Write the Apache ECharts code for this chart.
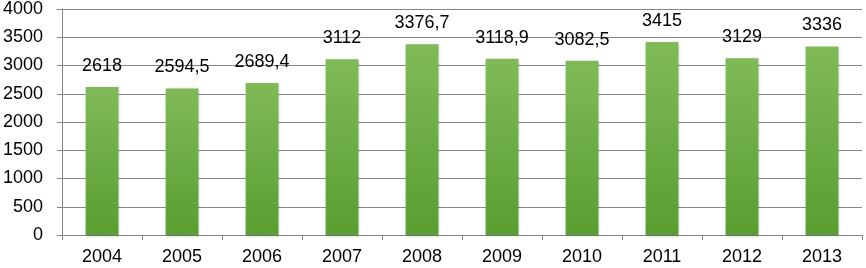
<!DOCTYPE html>
<html><head><meta charset="utf-8">
<script src="https://cdn.jsdelivr.net/npm/echarts@6/dist/echarts.min.js"></script>
<style>html,body{margin:0;padding:0;background:#fff}#c{width:866px;height:268px}</style>
</head><body><div id="c"></div>
<script>
var categories = ['2004','2005','2006','2007','2008','2009','2010','2011','2012','2013'];
var values = [2618, 2594.5, 2689.4, 3112, 3376.7, 3118.9, 3082.5, 3415, 3129, 3336];
var yTicks = {min: 0, max: 4000, interval: 500};

var chart = echarts.init(document.getElementById('c'));
chart.setOption({
  animation: false,
  grid: {left: 61, right: 4, top: 8, bottom: 33},
  xAxis: {
    type: 'category', data: categories,
    axisLine: {lineStyle: {color: '#868686'}},
    axisTick: {show: true, length: 5, lineStyle: {color: '#868686'}},
    axisLabel: {color: '#000', fontSize: 18, fontFamily: 'Liberation Sans', margin: 13}
  },
  yAxis: {
    type: 'value', min: yTicks.min, max: yTicks.max, interval: yTicks.interval,
    axisLine: {show: true, lineStyle: {color: '#868686'}},
    axisTick: {show: true, length: 5, lineStyle: {color: '#868686'}},
    splitLine: {lineStyle: {color: '#868686'}},
    axisLabel: {color: '#000', fontSize: 18, fontFamily: 'Liberation Sans', margin: 19,
      formatter: function(v){ return String(v); }}
  },
  series: [{
    type: 'bar', data: values, barWidth: '41%',
    itemStyle: {
      color: new echarts.graphic.LinearGradient(0,0,0,1,[{offset:0,color:'#80ba58'},{offset:1,color:'#5a9e31'}]),
      shadowBlur: 3, shadowColor: 'rgba(0,0,0,0.25)', shadowOffsetX: 1, shadowOffsetY: 1
    },
    label: {
      show: true, position: 'top', distance: 12, color: '#000', fontSize: 18,
      fontFamily: 'Liberation Sans',
      formatter: function(p){ return String(p.value).replace('.', ','); }
    }
  }]
});
</script></body></html>
